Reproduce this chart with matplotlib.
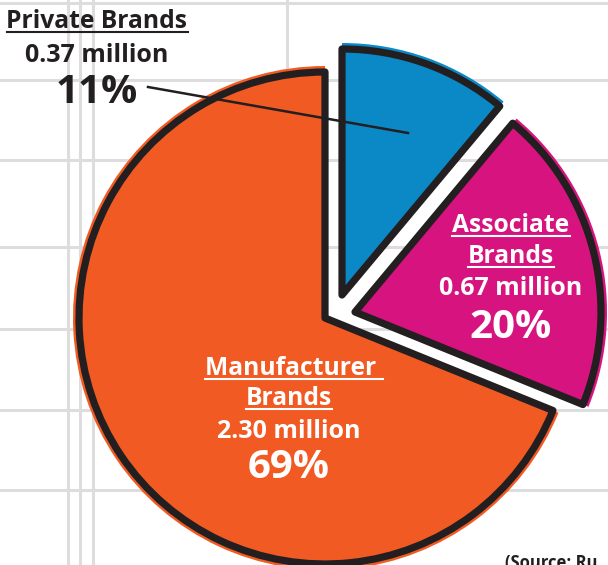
import numpy as np
import matplotlib
matplotlib.use("Agg")
from matplotlib import pyplot as plt
from matplotlib.patches import Wedge

plt.rcParams['font.family'] = ['Open Sans', 'DejaVu Sans']

# data
brands = ["Private Brands", "Associate Brands", "Manufacturer Brands"]
millions = [0.37, 0.67, 2.30]
shares = [11, 20, 69]
colors = ["#0a89c6", "#d6137f", "#f15a22"]

W, H = 608, 565
INK = "#231f20"

fig = plt.figure(figsize=(W / 100, H / 100), dpi=100)
ax = fig.add_axes([0, 0, 1, 1])
ax.set_xlim(0, W)
ax.set_ylim(0, H)
ax.axis("off")

def Y(y):
    # picture rows (top down) -> axes y (bottom up)
    return H - y

# sketchy grid in the background
for y in [3, 80, 160, 247, 329, 410, 490]:
    ax.plot([0, W], [Y(y), Y(y)], color="#dddddd", lw=2.2, zorder=0)
for x in [68, 80, 93, 287]:
    ax.plot([x, x], [0, H], color="#dddddd", lw=2.2, zorder=0)

# pie, clockwise from 12 o'clock
cx, cy, r = 325, Y(318), 252
shift = {0: (17, 23), 1: (30, 6), 2: (0, 0)}
frac = np.array(millions) / sum(millions)
start = 90.0
for i, f in enumerate(frac):
    t2 = start
    t1 = start - f * 360
    start = t1
    c = (cx + shift[i][0], cy + shift[i][1])
    ax.add_patch(Wedge(c, r, t1, t2, facecolor=colors[i], edgecolor="none", zorder=2))
    ax.add_patch(Wedge(c, r - 6, t1, t2, fill=False, edgecolor=INK, lw=5.2,
                       joinstyle="round", zorder=3))

# leader line for the small slice
ax.plot([148, 408], [Y(87), Y(133)], color=INK, lw=1.8, zorder=4)

fig.canvas.draw()
renderer = fig.canvas.get_renderer()

def label(x, y, s, size, color, underline=False):
    t = ax.text(x, Y(y), s, ha="center", va="baseline", fontsize=size,
                fontweight="bold", color=color, zorder=5)
    if underline:
        bb = t.get_window_extent(renderer)
        ax.plot([bb.x0, bb.x1], [Y(y + 4), Y(y + 4)], color=color, lw=1.5, zorder=5)

# Private Brands
label(97, 28, "Private Brands", 17.7, INK, True)
label(97, 62, "{:.2f} million".format(millions[0]), 18, INK)
label(97, 103, "{}%".format(shares[0]), 29, INK)

# Associate Brands
label(511, 232, "Associate", 17.7, "white", True)
label(511, 263, "Brands", 17.7, "white", True)
label(511, 295, "{:.2f} million".format(millions[1]), 18, "white")
label(511, 338, "{}%".format(shares[1]), 29, "white")

# Manufacturer Brands
label(294, 375, "Manufacturer ", 17.7, "white", True)
label(289, 405, "Brands", 17.7, "white", True)
label(289, 438, "{:.2f} million".format(millions[2]), 18, "white")
label(289, 478, "{}%".format(shares[2]), 29, "white")

ax.text(505, Y(554), "(Source: Ru", ha="left", va="top", fontsize=12,
        fontweight="bold", color=INK, zorder=5)

fig.savefig("out.png", dpi=100)
